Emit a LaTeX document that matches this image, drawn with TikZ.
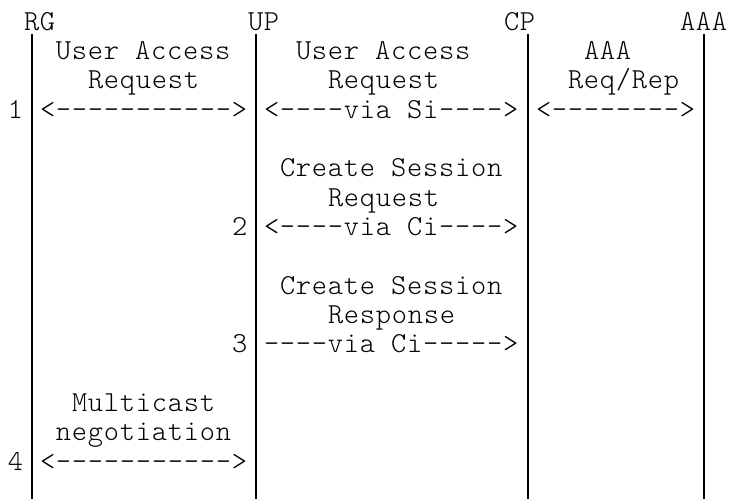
\documentclass[tikz,border=0pt]{standalone}
\usepackage{fontspec}
\setmonofont{lmmonolt10-regular}[Extension=.otf, LetterSpace=2.67]
\begin{document}
\begin{tikzpicture}[x=1pt,y=1pt,
  ascii/.style={anchor=base west, inner sep=0pt, outer sep=0pt,
    font=\ttfamily\fontsize{29}{29.33}\selectfont, text=black},
  lifeline/.style={draw=black, line width=1.4pt}]
\useasboundingbox (0,0) rectangle (729,-499);
% header
\node[ascii] (hRG)  at (24,-30)  {RG};
\node[ascii] (hUP)  at (248,-30) {UP};
\node[ascii] (hCP)  at (504,-30) {CP};
\node[ascii] (hAAA) at (680,-30) {AAA};
% lifelines
\coordinate (rgT) at (32,-34);   \coordinate (rgB) at (32,-499);
\coordinate (upT) at (256,-34);  \coordinate (upB) at (256,-499);
\coordinate (cpT) at (528,-34);  \coordinate (cpB) at (528,-499);
\coordinate (aaT) at (704,-34);  \coordinate (aaB) at (704,-499);
\draw[lifeline] (rgT) -- (rgB);
\draw[lifeline] (upT) -- (upB);
\draw[lifeline] (cpT) -- (cpB);
\draw[lifeline] (aaT) -- (aaB);
% step 1
\node[ascii] (uaA) at (56,-59.33)  {User Access};
\node[ascii] (uaB) at (296,-59.33) {User Access};
\node[ascii] (aaL) at (584,-59.33) {AAA};
\node[ascii] (rqA) at (88,-88.67)  {Request};
\node[ascii] (rqB) at (328,-88.67) {Request};
\node[ascii] (rrL) at (568,-88.67) {Req/Rep};
\node[ascii] (n1)  at (8,-118)     {1};
\node[ascii] (a1)  at (40,-118)    {<----------->};
\node[ascii] (a1b) at (264,-118)   {<----via Si---->};
\node[ascii] (a1c) at (536,-118)   {<-------->};
% step 2
\node[ascii] (cs2) at (280,-176.67) {Create Session};
\node[ascii] (rq2) at (328,-206)    {Request};
\node[ascii] (n2)  at (232,-235.33) {2};
\node[ascii] (a2)  at (264,-235.33) {<----via Ci---->};
% step 3
\node[ascii] (cs3) at (280,-294)    {Create Session};
\node[ascii] (rs3) at (328,-323.33) {Response};
\node[ascii] (n3)  at (232,-352.67) {3};
\node[ascii] (a3)  at (264,-352.67) {----via Ci----->};
% step 4
\node[ascii] (mc4) at (72,-411.33)  {Multicast};
\node[ascii] (ng4) at (56,-440.67)  {negotiation};
\node[ascii] (n4)  at (8,-470)      {4};
\node[ascii] (a4)  at (40,-470)     {<----------->};
\end{tikzpicture}
\end{document}
